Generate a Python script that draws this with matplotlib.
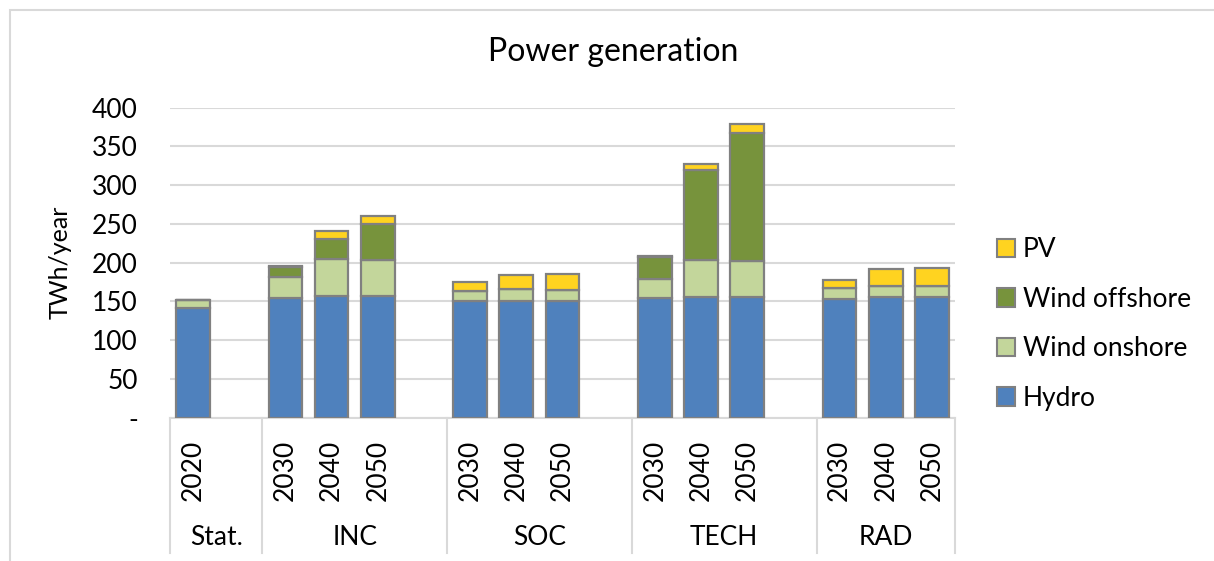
import numpy as np
import matplotlib.pyplot as plt
from matplotlib.patches import Rectangle, Patch
from matplotlib.transforms import blended_transform_factory

plt.rcParams['font.family'] = ['Lato', 'DejaVu Sans']

# data
groups = ['Stat.', 'INC', 'SOC', 'TECH', 'RAD']
years = [['2020'], ['2030', '2040', '2050'], ['2030', '2040', '2050'],
         ['2030', '2040', '2050'], ['2030', '2040', '2050']]
hydro = [142, 155, 157, 157, 150, 151, 151, 154, 156, 156, 153, 156, 156]
onshore = [10, 26, 48, 46, 14, 15, 14, 25, 47, 46, 15, 14, 14]
offshore = [0, 14, 26, 47, 0, 0, 0, 29, 116, 166, 0, 0, 0]
pv = [0, 1, 10, 10, 11, 18, 21, 0.5, 9, 11, 10, 22, 23]

series = [('Hydro', hydro, '#4f81bd'),
          ('Wind onshore', onshore, '#c3d69b'),
          ('Wind offshore', offshore, '#77933c'),
          ('PV', pv, '#ffd320')]

# slot positions: each group followed by one empty slot (except the last)
xpos = []
bounds = [0]
slot = 0
for gi, ys in enumerate(years):
    for y in ys:
        xpos.append(slot)
        slot += 1
    if gi < len(years) - 1:
        slot += 1
    bounds.append(slot)
nslots = slot
xpos = np.array(xpos)

fig = plt.figure(figsize=(12.14, 5.61), dpi=100)
ax = fig.add_axes([0.140, 0.2554, 0.6467, 0.5526])

bottom = np.zeros(len(xpos))
for name, vals, col in series:
    vals = np.array(vals, dtype=float)
    ax.bar(xpos, vals, 0.73, bottom=bottom, color=col, edgecolor='#808080',
           linewidth=1.6, label=name, zorder=3)
    bottom += vals

ax.set_xlim(-0.5, nslots - 0.5)
ax.set_ylim(0, 400)
ax.set_yticks(range(0, 401, 50))
ax.set_yticklabels(['-'] + [str(v) for v in range(50, 401, 50)], fontsize=19)
ax.tick_params(axis='y', length=0, pad=23)
ax.yaxis.grid(True, color='#d9d9d9', linewidth=1.5, zorder=0)
ax.set_xticks([])
for s in ['top', 'right', 'left']:
    ax.spines[s].set_visible(False)
ax.spines['bottom'].set_color('#d9d9d9')
ax.spines['bottom'].set_linewidth(1.5)
ax.set_ylabel('TWh/year', fontsize=18)
ax.yaxis.set_label_coords(-0.125, 0.5)

tr = blended_transform_factory(ax.transData, ax.transAxes)
for x, y in zip(xpos, [y for ys in years for y in ys]):
    ax.text(x, -0.169, y, rotation=90, ha='center', va='center', fontsize=19,
            transform=tr)
for gi, g in enumerate(groups):
    lo, hi = bounds[gi] - 0.5, bounds[gi + 1] - 0.5
    ax.text((lo + hi) / 2, -0.385, g, ha='center', va='center', fontsize=19,
            transform=tr)
for b in bounds:
    ax.plot([b - 0.5, b - 0.5], [0, -0.437], color='#d9d9d9', linewidth=1.5,
            transform=tr, clip_on=False)

fig.text(0.505, 0.907, 'Power generation', fontsize=23, ha='center', va='center')

handles = [Patch(facecolor=c, edgecolor='#808080', linewidth=1.5, label=n)
           for n, v, c in series][::-1]
fig.legend(handles=handles, loc='center left', bbox_to_anchor=(997 / 1214, 1 - 324 / 561),
           frameon=False, fontsize=19, handlelength=0.68, handleheight=0.68,
           handletextpad=0.3, labelspacing=0.93, borderpad=0, borderaxespad=0)

fig.patches.append(Rectangle((10 / 1214, -0.1), 1.2, 1.1 - 10 / 561,
                             transform=fig.transFigure, fill=False,
                             edgecolor='#d9d9d9', linewidth=1.5))

fig.savefig('out.png', dpi=100)
